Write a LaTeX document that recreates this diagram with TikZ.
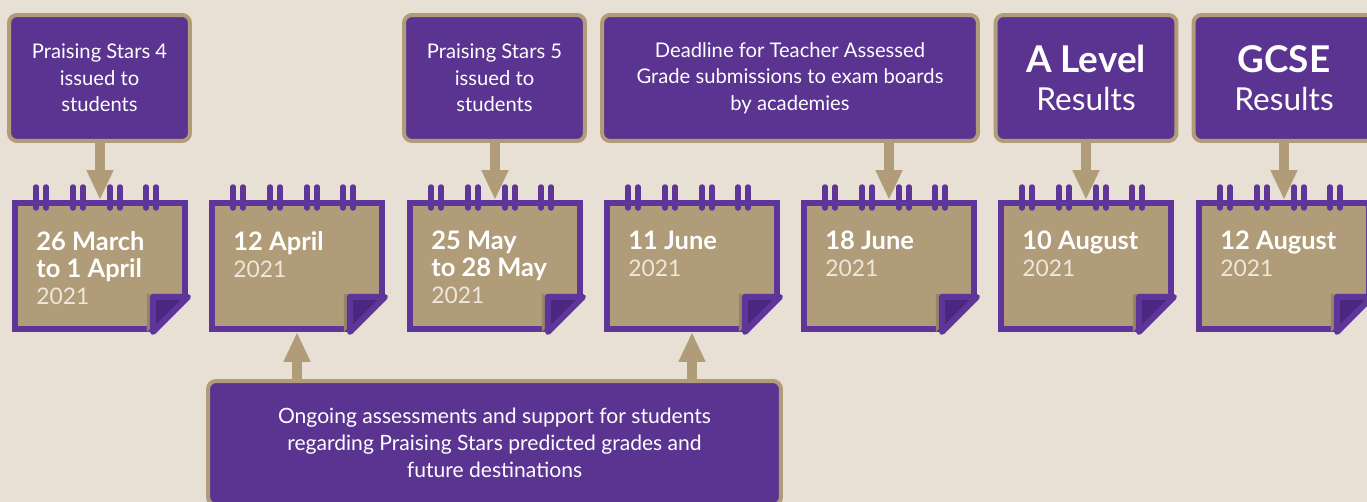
\documentclass[tikz,border=0pt]{standalone}
\usepackage{fontspec}
\setmainfont{Lato}
\usepackage{tikz}
\usetikzlibrary{arrows.meta, positioning, calc}

\definecolor{paper}{HTML}{E8E0D4}
\definecolor{plum}{HTML}{5B3391}
\definecolor{khaki}{HTML}{B09C78}
\definecolor{ringplum}{HTML}{5E3699}
\definecolor{foldplum}{HTML}{4A2780}
\definecolor{yearcol}{HTML}{EEE7DA}

\begin{document}
\begin{tikzpicture}[x=0.02cm, y=-0.02cm]
    \tikzset{
        evbox/.style={draw=khaki, line width=0.08cm, fill=plum, rounded corners=0.16cm, minimum width=3.62cm, minimum height=2.52cm, text=white, align=center, font=\fontsize{11.5}{15}\selectfont},
        calpage/.style={rectangle, draw=ringplum, line width=0.12cm, fill=khaki, minimum width=3.4cm, minimum height=2.52cm, inner sep=0pt},
        datetext/.style={anchor=north west, inner sep=0pt, text=white, align=left, font=\fontsize{14.5}{15.3}\selectfont},
        ringbar/.style={draw=ringplum, line width=0.11cm, line cap=round},
        fold/.style={draw=ringplum, fill=foldplum, line width=0.12cm, line join=round},
        pointer/.style={draw=khaki, line width=0.2cm, -{Triangle[length=0.6cm, width=0.5cm]}}
    }
    \useasboundingbox (0,0) rectangle (1367,502);
    \clip (0,0) rectangle (1367,502);
    \fill[paper] (0,0) rectangle (1367,502);

    % event boxes
    \node[evbox] (ps4) at (99.5,78) {Praising Stars 4\\issued to\\students};
    \node[evbox] (ps5) at (494.5,78) {Praising Stars 5\\issued to\\students};
    \node[evbox, minimum width=7.52cm] (tag) at (790,78) {Deadline for Teacher Assessed\\Grade submissions to exam boards\\by academies};
    \node[evbox, font=\fontsize{18}{22}\selectfont] (alevel) at (1086,78) {{\fontsize{21}{22}\selectfont\bfseries A Level}\\Results};
    \node[evbox, font=\fontsize{18}{22}\selectfont] (gcse) at (1284,78) {{\fontsize{21}{22}\selectfont\bfseries GCSE}\\Results};
    \node[evbox, minimum width=11.46cm, minimum height=2.48cm, font=\fontsize{12}{15.3}\selectfont] (ongoing) at (494.5,443) {Ongoing assessments and support for students\\regarding Praising Stars predicted grades and\\future destinations};

    % calendar pages
    \node[calpage] (mar) at (100,266) {};
    \node[calpage] (apr) at (297,266) {};
    \node[calpage] (may) at (495,266) {};
    \node[calpage] (junA) at (692,266) {};
    \node[calpage] (junB) at (889,266) {};
    \node[calpage] (augA) at (1086,266) {};
    \node[calpage] (augB) at (1284,266) {};

    \foreach \c in {mar,apr,may,junA,junB,augA,augB}{
        \foreach \dx in {24,34,61,71,98,108,134,144}
            \draw[ringbar] ([shift={(\dx,-13)}]\c.north west) -- ([shift={(\dx,8)}]\c.north west);
        % folded corner
        \coordinate (corner) at (\c.east |- \c.south);
        \fill[paper] ($(corner)+(5,-35)$) -- ($(corner)+(5,5)$) -- ($(corner)+(-35,5)$) -- ($(corner)+(-35,0)$) -- ($(corner)+(0,-35)$) -- cycle;
        \fill[khaki!85!black] ($(corner)+(-41,-38)$) -- ++(38,0) -- ++(-38,38) -- cycle;
        \filldraw[fold] ($(corner)+(-35,-35)$) -- ++(35,0) -- ++(-35,35) -- cycle;
    }

    \node[datetext] (dmar) at ([shift={(24,31)}]mar.north west) {\textbf{26 March}\\\textbf{to 1 April}\\{\fontsize{13}{15.3}\selectfont\color{yearcol}2021}};
    \node[datetext] (dapr) at ([shift={(24,31)}]apr.north west) {\textbf{12 April}\\{\fontsize{13}{15.3}\selectfont\color{yearcol}2021}};
    \node[datetext] (dmay) at ([shift={(24,31)}]may.north west) {\textbf{25 May}\\\textbf{to 28 May}\\{\fontsize{13}{15.3}\selectfont\color{yearcol}2021}};
    \node[datetext] (djunA) at ([shift={(24,31)}]junA.north west) {\textbf{11 June}\\{\fontsize{13}{15.3}\selectfont\color{yearcol}2021}};
    \node[datetext] (djunB) at ([shift={(24,31)}]junB.north west) {\textbf{18 June}\\{\fontsize{13}{15.3}\selectfont\color{yearcol}2021}};
    \node[datetext] (daugA) at ([shift={(24,31)}]augA.north west) {\textbf{10 August}\\{\fontsize{13}{15.3}\selectfont\color{yearcol}2021}};
    \node[datetext] (daugB) at ([shift={(24,31)}]augB.north west) {\textbf{12 August}\\{\fontsize{13}{15.3}\selectfont\color{yearcol}2021}};

    % arrows
    \draw[pointer] (ps4.south -| mar.north) -- (mar.north);
    \draw[pointer] (ps5.south -| may.north) -- (may.north);
    \draw[pointer] (tag.south -| junB.north) -- (junB.north);
    \draw[pointer] (alevel.south -| augA.north) -- (augA.north);
    \draw[pointer] (gcse.south -| augB.north) -- (augB.north);
    \draw[pointer] (ongoing.north -| apr.south) -- (apr.south);
    \draw[pointer] (ongoing.north -| junA.south) -- (junA.south);
\end{tikzpicture}
\end{document}
